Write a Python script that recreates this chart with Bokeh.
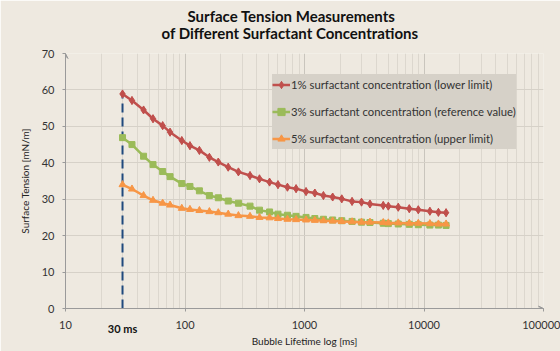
from bokeh.plotting import figure
from bokeh.models import (FixedTicker, Range1d, Legend, LegendItem, Title, LogAxis,
                          Arrow, VeeHead)
from bokeh.embed import file_html
from bokeh.resources import INLINE

# ---- data ----
lifetime_ms = [30, 36, 45, 54, 65, 75, 94, 110, 132, 160, 190, 230, 280, 350, 420,
               510, 600, 720, 850, 1030, 1220, 1440, 1720, 2050, 2500, 3000, 3530,
               4560, 5030, 6090, 7530, 8960, 11200, 13200, 15300]
conc_1pct = [58.9, 57.1, 54.5, 52.1, 50.2, 48.4, 46.1, 44.7, 43.4, 41.5, 40.2, 38.8,
             37.5, 36.5, 35.6, 34.7, 34.0, 33.3, 32.9, 32.1, 31.7, 31.0, 30.6, 30.1,
             29.4, 29.2, 28.7, 28.3, 28.1, 27.8, 27.4, 27.1, 26.7, 26.4, 26.3]
conc_3pct = [46.9, 45.0, 41.8, 39.5, 37.6, 36.2, 34.3, 33.5, 32.3, 31.0, 30.4, 29.5,
             28.9, 28.1, 27.0, 26.5, 25.9, 25.6, 25.3, 25.0, 24.7, 24.5, 24.3, 24.1,
             23.9, 23.7, 23.6, 23.4, 23.3, 23.2, 23.1, 23.0, 22.9, 22.9, 22.8]
conc_5pct = [34.0, 32.8, 31.0, 29.7, 28.9, 28.4, 27.5, 27.2, 26.9, 26.6, 26.3, 25.9,
             25.5, 25.3, 25.0, 24.9, 24.7, 24.5, 24.4, 24.3, 24.2, 24.1, 24.0, 23.9,
             23.8, 23.7, 23.7, 23.6, 23.5, 23.5, 23.4, 23.4, 23.3, 23.2, 23.2]
series_labels = ["1% surfactant concentration (lower limit)",
                 "3% surfactant concentration (reference value)",
                 "5% surfactant concentration (upper limit)"]
title_lines = ["Surface Tension Measurements", "of Different Surfactant Concentrations"]
x_major_ticks = [10, 100, 1000, 10000, 100000]
x_tick_labels = ["10", "100", "1000", "10000", "100000"]
y_ticks = [0, 10, 20, 30, 40, 50, 60, 70]
marker_label = "30 ms"

FONT = "Lato"
BG = "#EEE9E0"
TXT = "#333333"

minor = []
for d in x_major_ticks[:-1]:
    minor += [d * k for k in range(2, 10)]

p = figure(x_axis_type="log", output_backend="svg", toolbar_location=None,
           frame_width=478, frame_height=255,
           min_border_left=65, min_border_right=17, min_border_top=53, min_border_bottom=43,
           x_range=Range1d(10, 100000), y_range=Range1d(0, 70),
           background_fill_color=BG, border_fill_color=BG, outline_line_color=None)

# titles (second line added first so it sits nearest the plot)
p.add_layout(Title(text=title_lines[1], align="left",
                   text_font=FONT, text_font_size="15px", text_font_style="bold",
                   text_color="#111111", standoff=24, offset=96), "above")
p.add_layout(Title(text=title_lines[0], align="left",
                   text_font=FONT, text_font_size="15px", text_font_style="bold",
                   text_color="#111111", standoff=-30, offset=122), "above")

# grids
p.xaxis.ticker = FixedTicker(ticks=x_major_ticks, minor_ticks=minor)
p.yaxis.ticker = FixedTicker(ticks=y_ticks)
p.xaxis.major_label_overrides = {t: l for t, l in zip(x_major_ticks, x_tick_labels)}
p.xgrid.grid_line_color = "#C9C5BD"
p.xgrid.minor_grid_line_color = "#DCD7CE"
p.ygrid.grid_line_color = "#D6D1C8"

for ax in (p.xaxis, p.yaxis):
    ax.axis_line_color = "#9A9A9A"
    ax.major_tick_line_color = "#9A9A9A"
    ax.major_tick_out = 3
    ax.major_tick_in = 0
    ax.minor_tick_line_color = None
    ax.major_label_text_font = FONT
    ax.major_label_text_font_size = "11px"
    ax.major_label_text_color = TXT
    ax.axis_label_text_font = FONT
    ax.axis_label_text_font_size = "10px"
    ax.axis_label_text_font_style = "normal"
    ax.axis_label_text_color = "#222222"
p.xaxis.major_label_standoff = 8
p.yaxis.major_label_standoff = 8
p.yaxis.axis_label = "Surface Tension [mN/m]"
p.yaxis.axis_label_standoff = 8

# second bottom axis carrying the bold "30 ms" marker label and the axis title
ax2 = LogAxis(ticker=FixedTicker(ticks=[lifetime_ms[0]]),
              major_label_overrides={lifetime_ms[0]: marker_label},
              axis_line_color=None, major_tick_line_color=None, minor_tick_line_color=None,
              major_label_text_font=FONT, major_label_text_font_size="11px",
              major_label_text_font_style="bold", major_label_text_color="#111111",
              major_label_standoff=-16,
              axis_label="Bubble Lifetime log [ms]", axis_label_text_font=FONT,
              axis_label_text_font_size="10px", axis_label_text_font_style="normal",
              axis_label_text_color="#222222", axis_label_standoff=-3)
p.add_layout(ax2, "below")

# vertical dashed marker at first lifetime
p.line([lifetime_ms[0], lifetime_ms[0]], [0, conc_1pct[0]], line_color="#1F497D",
       line_width=2, line_dash="9 5")

colors = ["#C0504D", "#9BBB59", "#F79646"]
markers = ["diamond_cross", "square", "triangle"]
sizes = [8, 6, 7]
items = []
for ys, c, m, s, lab in zip([conc_1pct, conc_3pct, conc_5pct], colors, markers, sizes,
                            series_labels):
    r1 = p.line(lifetime_ms, ys, line_color=c, line_width=2.5)
    r2 = p.scatter(lifetime_ms, ys, marker=m, size=s, fill_color=c, line_color=c)
    items.append(LegendItem(label=lab, renderers=[r1, r2]))

legend = Legend(items=items, location=(207, 159), background_fill_color="#D6D1C8",
                background_fill_alpha=1, border_line_color=None,
                label_text_font=FONT, label_text_font_size="11.3px", label_text_color=TXT,
                glyph_width=18, glyph_height=21, label_height=21, label_standoff=1,
                label_width=222, spacing=6, padding=7, margin=0)
p.add_layout(legend)

# axis arrows
p.add_layout(Arrow(x_start=10, y_start=0, x_end=10, y_end=70, line_color="#9A9A9A",
                   line_width=1, end=VeeHead(size=5, line_color="#9A9A9A",
                                            fill_color="#9A9A9A")))
p.add_layout(Arrow(x_start=10, y_start=0, x_end=100000, y_end=0, line_color="#9A9A9A",
                   line_width=1, end=VeeHead(size=5, line_color="#9A9A9A",
                                            fill_color="#9A9A9A")))

open("out.html", "w").write(file_html(p, INLINE))
